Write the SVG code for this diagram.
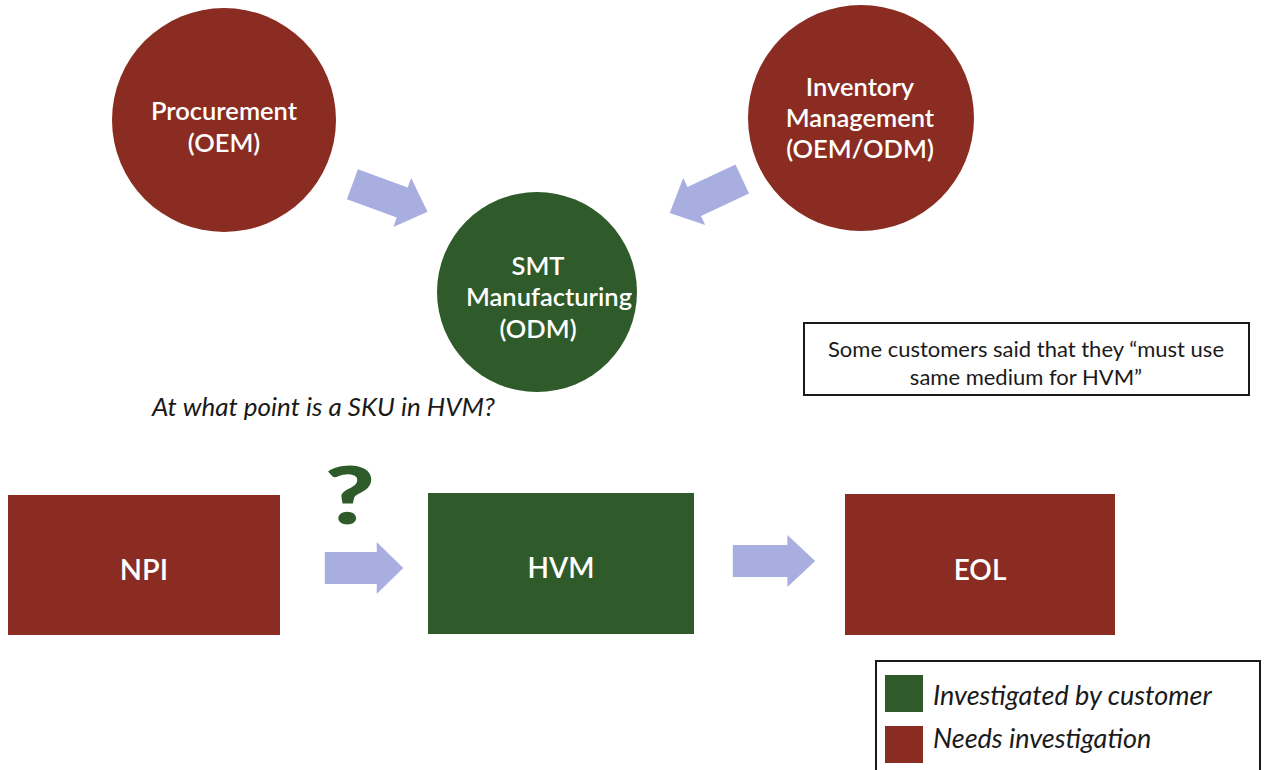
<svg xmlns="http://www.w3.org/2000/svg" width="1267" height="770" viewBox="0 0 1267 770">
  <defs>
    <style>
      .red { fill: #8a2c22; }
      .green { fill: #2f5a2a; }
      .flow { fill: #a9aee0; }
      .lbl { font-family: Lato, "Open Sans", "Liberation Sans", sans-serif; fill: #ffffff; text-anchor: middle; font-weight: 600; }
      .circ { font-size: 25.5px; }
      .note { font-family: Lato, "Open Sans", "Liberation Sans", sans-serif; fill: #1a1a1a; }
      .box { fill: #ffffff; stroke: #1a1a1a; stroke-width: 2; }
    </style>
    <!-- block arrow pointing right, centred on the origin -->
    <path id="blockArrow" d="M-40,-16 H13 V-26 L40,0 L13,26 V16 H-40 Z"/>
  </defs>

  <rect width="1267" height="770" fill="#ffffff"/>

  <g id="procurement">
    <circle class="red" cx="224" cy="120" r="112"/>
    <text class="lbl circ" x="224" y="120">Procurement</text>
    <text class="lbl circ" x="224" y="152">(OEM)</text>
  </g>

  <g id="inventory">
    <circle class="red" cx="861" cy="118" r="113"/>
    <text class="lbl circ" x="860" y="96">Inventory</text>
    <text class="lbl circ" x="860" y="127">Management</text>
    <text class="lbl circ" x="860" y="158">(OEM/ODM)</text>
  </g>

  <g id="smt">
    <circle class="green" cx="537" cy="292" r="100"/>
    <text class="lbl circ" x="538" y="275">SMT</text>
    <text class="lbl circ" x="549" y="306">Manufacturing</text>
    <text class="lbl circ" x="538" y="338">(ODM)</text>
  </g>

  <g id="npi">
    <rect class="red" x="8" y="495" width="272" height="140"/>
    <text class="lbl" font-size="29" font-weight="bold" x="144" y="580">NPI</text>
  </g>

  <g id="hvm">
    <rect class="green" x="428" y="493" width="266" height="141"/>
    <text class="lbl" font-size="28" font-weight="bold" x="561" y="578">HVM</text>
  </g>

  <g id="eol">
    <rect class="red" x="845" y="494" width="270" height="141"/>
    <text class="lbl" font-size="28" font-weight="bold" x="980" y="580">EOL</text>
  </g>

  <g id="connectors">
    <use href="#blockArrow" class="flow" transform="translate(390,198) rotate(20)"/>
    <use href="#blockArrow" class="flow" transform="translate(706,196) rotate(155)"/>
    <use href="#blockArrow" class="flow" transform="translate(364,568) scale(0.98,1)"/>
    <use href="#blockArrow" class="flow" transform="translate(774,561) scale(1.03,1)"/>
  </g>

  <g id="question">
    <text x="0" y="0" transform="translate(350,524) scale(1.4,1.02)" font-family="Lato, 'Open Sans', 'Liberation Sans', sans-serif" font-size="78" font-weight="900" fill="#2f5a2a" text-anchor="middle">?</text>
  </g>

  <g id="caption">
    <text class="note" x="152" y="416" font-size="26" font-style="italic">At what point is a SKU in HVM?</text>
  </g>

  <g id="remark">
    <rect class="box" x="804" y="323" width="445" height="72"/>
    <text class="note" x="1026" y="357" font-size="22" text-anchor="middle">Some customers said that they “must use</text>
    <text class="note" x="1026" y="385" font-size="22" text-anchor="middle">same medium for HVM”</text>
  </g>

  <g id="legend">
    <rect class="box" x="876" y="661" width="384" height="115" stroke-width="2.5"/>
    <rect class="green" x="885" y="675" width="38" height="37"/>
    <rect class="red" x="885" y="726" width="38" height="37"/>
    <text class="note" x="933" y="705" font-size="27" font-style="italic">Investigated by customer</text>
    <text class="note" x="933" y="748" font-size="27" font-style="italic">Needs investigation</text>
  </g>
</svg>
